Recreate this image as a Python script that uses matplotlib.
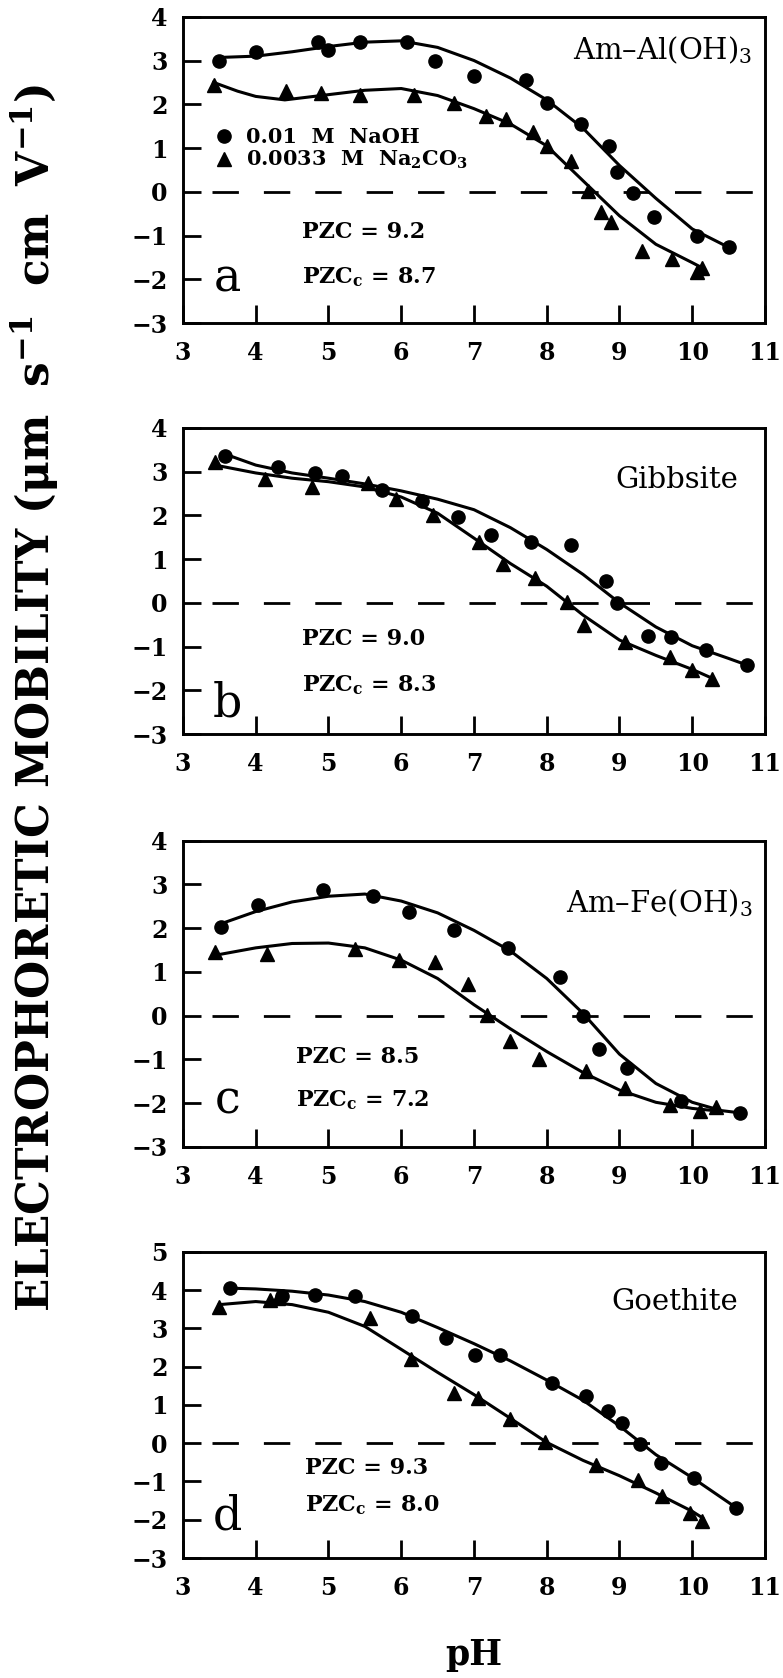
import matplotlib.pyplot as plt

plt.rcParams['font.family'] = 'DejaVu Serif'
plt.rcParams['mathtext.fontset'] = 'dejavuserif'

# pH values and mobilities
# panel a: Am-Al(OH)3
a_naoh_ph = [3.5, 4.0, 4.86, 5.0, 5.44, 6.08, 6.47, 7.0, 7.72, 8.0, 8.47, 8.86, 8.96, 9.18, 9.48, 10.07, 10.5]
a_naoh_mob = [3.0, 3.2, 3.43, 3.25, 3.43, 3.43, 3.0, 2.65, 2.56, 2.03, 1.54, 1.05, 0.46, -0.02, -0.58, -1.0, -1.27]
a_carb_ph = [3.42, 4.42, 4.9, 5.43, 6.17, 6.72, 7.17, 7.44, 7.81, 8.0, 8.33, 8.57, 8.75, 8.89, 9.31, 9.72, 10.06, 10.14]
a_carb_mob = [2.45, 2.3, 2.26, 2.22, 2.22, 2.02, 1.73, 1.67, 1.36, 1.05, 0.7, 0.02, -0.47, -0.68, -1.36, -1.53, -1.83, -1.74]
a_fit_naoh_ph = [3.5, 4.0, 4.5, 5.0, 5.5, 6.0, 6.5, 7.0, 7.5, 8.0, 8.5, 9.0, 9.5, 10.0, 10.5]
a_fit_naoh_mob = [3.07, 3.1, 3.2, 3.32, 3.42, 3.45, 3.3, 3.0, 2.6, 2.1, 1.45, 0.6, -0.15, -0.85, -1.27]
a_fit_carb_ph = [3.42, 3.75, 4.0, 4.4, 5.0, 5.5, 6.0, 6.5, 7.0, 7.5, 8.0, 8.5, 9.0, 9.5, 10.0, 10.15]
a_fit_carb_mob = [2.5, 2.3, 2.18, 2.1, 2.22, 2.32, 2.36, 2.2, 1.9, 1.55, 1.05, 0.25, -0.55, -1.2, -1.62, -1.75]

# panel b: Gibbsite
b_naoh_ph = [3.58, 4.31, 4.81, 5.19, 5.74, 6.29, 6.78, 7.24, 7.78, 8.33, 8.81, 8.97, 9.39, 9.71, 10.19, 10.75]
b_naoh_mob = [3.36, 3.1, 2.97, 2.91, 2.59, 2.33, 1.97, 1.56, 1.39, 1.33, 0.5, 0.0, -0.75, -0.79, -1.08, -1.41]
b_carb_ph = [3.44, 4.13, 4.77, 5.54, 5.93, 6.44, 7.07, 7.4, 7.84, 8.28, 8.51, 9.08, 9.69, 10.0, 10.27]
b_carb_mob = [3.21, 2.83, 2.66, 2.74, 2.37, 2.02, 1.39, 0.88, 0.58, 0.02, -0.51, -0.89, -1.23, -1.53, -1.74]
b_fit_naoh_ph = [3.58, 4.0, 4.5, 5.0, 5.5, 6.0, 6.5, 7.0, 7.5, 8.0, 8.5, 9.0, 9.5, 10.0, 10.5, 10.75]
b_fit_naoh_mob = [3.4, 3.15, 2.97, 2.85, 2.72, 2.56, 2.37, 2.13, 1.72, 1.22, 0.65, 0.0, -0.55, -0.98, -1.27, -1.42]
b_fit_carb_ph = [3.44, 4.0, 4.5, 5.0, 5.5, 6.0, 6.5, 7.0, 7.5, 8.0, 8.5, 9.0, 9.5, 10.0, 10.27]
b_fit_carb_mob = [3.15, 2.97, 2.85, 2.77, 2.65, 2.42, 2.05, 1.48, 0.9, 0.38, -0.28, -0.85, -1.2, -1.52, -1.72]

# panel c: Am-Fe(OH)3
c_naoh_ph = [3.52, 4.03, 4.92, 5.61, 6.11, 6.73, 7.47, 8.18, 8.5, 8.72, 9.1, 9.85, 10.65]
c_naoh_mob = [2.02, 2.52, 2.88, 2.73, 2.36, 1.95, 1.54, 0.89, 0.0, -0.77, -1.19, -1.94, -2.22]
c_carb_ph = [3.44, 4.15, 5.36, 5.97, 6.47, 6.92, 7.18, 7.5, 7.89, 8.54, 9.07, 9.69, 10.11, 10.33]
c_carb_mob = [1.46, 1.42, 1.52, 1.27, 1.23, 0.73, 0.02, -0.58, -0.98, -1.27, -1.65, -2.05, -2.17, -2.09]
c_fit_naoh_ph = [3.52, 4.0, 4.5, 5.0, 5.5, 6.0, 6.5, 7.0, 7.5, 8.0, 8.5, 9.0, 9.5, 10.0, 10.4, 10.65]
c_fit_naoh_mob = [2.1, 2.38, 2.6, 2.73, 2.78, 2.62, 2.35, 1.95, 1.48, 0.85, 0.05, -0.88, -1.55, -1.98, -2.17, -2.22]
c_fit_carb_ph = [3.44, 4.0, 4.5, 5.0, 5.5, 6.0, 6.5, 7.0, 7.5, 8.0, 8.5, 9.0, 9.5, 10.0, 10.3]
c_fit_carb_mob = [1.38, 1.55, 1.65, 1.66, 1.55, 1.27, 0.85, 0.25, -0.3, -0.82, -1.3, -1.7, -1.98, -2.12, -2.17]

# panel d: Goethite
d_naoh_ph = [3.64, 4.36, 4.81, 5.36, 6.15, 6.61, 7.02, 7.36, 8.07, 8.54, 8.84, 9.04, 9.28, 9.57, 10.03, 10.6]
d_naoh_mob = [4.06, 3.84, 3.88, 3.85, 3.33, 2.76, 2.3, 2.3, 1.57, 1.22, 0.84, 0.54, -0.02, -0.52, -0.9, -1.7]
d_carb_ph = [3.5, 4.19, 4.3, 5.57, 6.13, 6.72, 7.06, 7.5, 7.98, 8.68, 9.25, 9.58, 9.97, 10.14]
d_carb_mob = [3.57, 3.75, 3.78, 3.26, 2.21, 1.32, 1.18, 0.63, 0.02, -0.58, -0.96, -1.39, -1.83, -2.04]
d_fit_naoh_ph = [3.64, 4.0, 4.5, 5.0, 5.5, 6.0, 6.5, 7.0, 7.5, 8.0, 8.5, 9.0, 9.5, 10.0, 10.6]
d_fit_naoh_mob = [4.05, 4.03, 3.97, 3.87, 3.7, 3.42, 3.02, 2.6, 2.15, 1.65, 1.12, 0.45, -0.3, -0.9, -1.68]
d_fit_carb_ph = [3.5, 4.0, 4.5, 5.0, 5.5, 6.0, 6.5, 7.0, 7.5, 8.0, 8.5, 9.0, 9.5, 10.0, 10.14]
d_fit_carb_mob = [3.62, 3.7, 3.62, 3.42, 3.05, 2.45, 1.85, 1.27, 0.65, 0.02, -0.45, -0.85, -1.3, -1.78, -1.95]

minerals = ['Am\u2013Al(OH)$_3$', 'Gibbsite', 'Am\u2013Fe(OH)$_3$', 'Goethite']
panel_letters = ['a', 'b', 'c', 'd']
pzc = ['9.2', '9.0', '8.5', '9.3']
pzc_c = ['8.7', '8.3', '7.2', '8.0']
y_tops = [4, 4, 4, 5]
ph_ticks = [3, 4, 5, 6, 7, 8, 9, 10, 11]

naoh_label = '0.01  M  NaOH'
carb_label = '0.0033  M  Na$_\\mathbf{2}$CO$_\\mathbf{3}$'

fig = plt.figure(figsize=(7.83, 16.78), dpi=100)

bottoms = [0.8075, 0.5625, 0.3165, 0.0715]
# text placement (axes fraction) per panel
title_xy = [(0.978, 0.891), (0.954, 0.831), (0.978, 0.795), (0.954, 0.837)]
pzc_x = [0.205, 0.205, 0.194, 0.21]
pzc_y = [(0.296, 0.151), (0.312, 0.159), (0.295, 0.153), (0.294, 0.173)]
letter_y = [0.145, 0.1, 0.15, 0.134]

panels = [
    (a_naoh_ph, a_naoh_mob, a_carb_ph, a_carb_mob, a_fit_naoh_ph, a_fit_naoh_mob, a_fit_carb_ph, a_fit_carb_mob),
    (b_naoh_ph, b_naoh_mob, b_carb_ph, b_carb_mob, b_fit_naoh_ph, b_fit_naoh_mob, b_fit_carb_ph, b_fit_carb_mob),
    (c_naoh_ph, c_naoh_mob, c_carb_ph, c_carb_mob, c_fit_naoh_ph, c_fit_naoh_mob, c_fit_carb_ph, c_fit_carb_mob),
    (d_naoh_ph, d_naoh_mob, d_carb_ph, d_carb_mob, d_fit_naoh_ph, d_fit_naoh_mob, d_fit_carb_ph, d_fit_carb_mob),
]

for i, p in enumerate(panels):
    nx, ny, cx, cy, fnx, fny, fcx, fcy = p
    ax = fig.add_axes([0.2337, bottoms[i], 0.7433, 0.1825])
    ax.plot(fnx, fny, color='black', lw=2.2)
    ax.plot(fcx, fcy, color='black', lw=2.2)
    ax.plot(nx, ny, 'o', color='black', ms=9.5, label=naoh_label)
    ax.plot(cx, cy, '^', color='black', ms=10, label=carb_label)
    ax.axhline(0, xmin=0.05, xmax=0.985, color='black', lw=2, dashes=(9.5, 9))

    ax.set_xlim(3, 11)
    ax.set_ylim(-3, y_tops[i])
    ax.set_xticks(ph_ticks)
    ax.set_yticks(range(-3, y_tops[i] + 1))
    ax.tick_params(direction='in', length=13, width=2, top=False, right=False,
                   labelsize=17)
    ax.tick_params(axis='y', pad=11)
    ax.tick_params(axis='x', pad=13)
    for lab in ax.get_xticklabels() + ax.get_yticklabels():
        lab.set_fontweight('bold')
    for sp in ax.spines.values():
        sp.set_linewidth(2.1)

    tx, ty = title_xy[i]
    ax.text(tx, ty, minerals[i], transform=ax.transAxes, ha='right', va='center',
            fontsize=21)
    ax.text(pzc_x[i], pzc_y[i][0], 'PZC = ' + pzc[i], transform=ax.transAxes,
            ha='left', va='center', fontsize=16, fontweight='bold')
    ax.text(pzc_x[i], pzc_y[i][1], 'PZC$_\\mathbf{c}$ = ' + pzc_c[i],
            transform=ax.transAxes, ha='left', va='center', fontsize=16,
            fontweight='bold')
    ax.text(0.076, letter_y[i], panel_letters[i], transform=ax.transAxes,
            ha='center', va='center', fontsize=33)

    if i == 0:
        ax.legend(loc='upper left', bbox_to_anchor=(0.055, 0.64),
                  frameon=False, borderpad=0, borderaxespad=0,
                  handlelength=0.9, handletextpad=0.6, labelspacing=0.1,
                  prop={'size': 15, 'weight': 'bold'})

fig.text(0.044, 0.584,
         'ELECTROPHORETIC MOBILITY ($\\mathbf{\\mu m\\ \\ s^{-1}\\ \\ cm\\ \\ V^{-1}}$)',
         rotation=90, ha='center', va='center', fontsize=31.5, fontweight='bold')
fig.text(474 / 783, 0.008, 'pH', ha='center', va='baseline', fontsize=25,
         fontweight='bold')

fig.savefig('out.png', dpi=100)
